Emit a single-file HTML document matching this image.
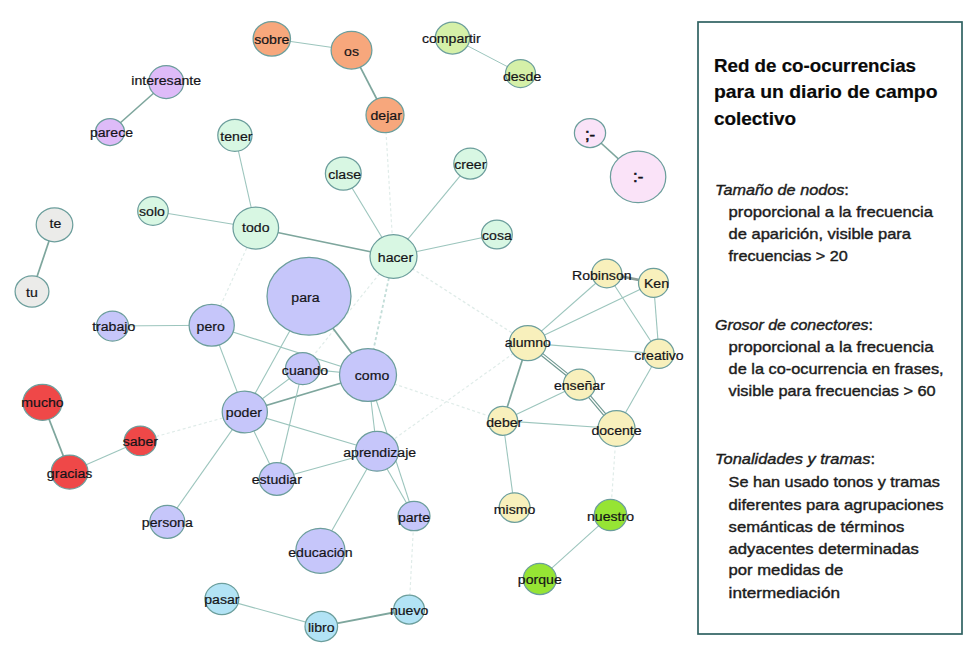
<!DOCTYPE html>
<html><head><meta charset="utf-8"><style>
html,body{margin:0;padding:0;background:#fff;}
body{width:980px;height:656px;overflow:hidden;}
svg{display:block;}
.l{font-family:"Liberation Sans",sans-serif;font-size:13.5px;fill:#141418;stroke:#141418;stroke-width:0.2px;}
.t{font-family:"Liberation Sans",sans-serif;font-size:18.5px;font-weight:bold;fill:#0a0a0a;stroke:#0a0a0a;stroke-width:0.2px;}
.b{font-family:"Liberation Sans",sans-serif;font-size:15px;fill:#1c1c1c;stroke:#1c1c1c;stroke-width:0.4px;}
.i{font-style:italic;}
</style></head><body>
<svg width="980" height="656" viewBox="0 0 980 656">

<line x1="271.8" y1="38.8" x2="351.5" y2="50.2" stroke="#9cc5bd" stroke-width="1.1"/>
<line x1="351.5" y1="50.2" x2="385.0" y2="115.0" stroke="#7ea69d" stroke-width="1.7"/>
<line x1="452.5" y1="38.0" x2="520.5" y2="73.5" stroke="#9cc5bd" stroke-width="1.0"/>
<line x1="166.2" y1="82.0" x2="110.0" y2="132.0" stroke="#7ea69d" stroke-width="1.6"/>
<line x1="590.0" y1="133.0" x2="638.1" y2="176.9" stroke="#7ea69d" stroke-width="1.6"/>
<line x1="54.5" y1="224.8" x2="32.0" y2="291.5" stroke="#7ea69d" stroke-width="1.7"/>
<line x1="234.9" y1="135.3" x2="255.8" y2="228.0" stroke="#9cc5bd" stroke-width="1.1"/>
<line x1="153.0" y1="211.0" x2="255.8" y2="228.0" stroke="#9cc5bd" stroke-width="1.1"/>
<line x1="255.8" y1="228.0" x2="393.5" y2="256.5" stroke="#7ea69d" stroke-width="1.6"/>
<line x1="343.3" y1="173.5" x2="393.5" y2="256.5" stroke="#9cc5bd" stroke-width="1.1"/>
<line x1="470.3" y1="163.6" x2="393.5" y2="256.5" stroke="#9cc5bd" stroke-width="1.1"/>
<line x1="496.9" y1="234.5" x2="393.5" y2="256.5" stroke="#9cc5bd" stroke-width="1.1"/>
<line x1="385.0" y1="115.0" x2="393.5" y2="256.5" stroke="#e0ece9" stroke-width="1.2" stroke-dasharray="3 2.5"/>
<line x1="393.5" y1="256.5" x2="368.0" y2="375.0" stroke="#c2ddd8" stroke-width="1.8" stroke-dasharray="3 2.5"/>
<line x1="393.5" y1="256.5" x2="527.8" y2="343.1" stroke="#e0ece9" stroke-width="1.4" stroke-dasharray="3 2.5"/>
<line x1="255.8" y1="228.0" x2="211.7" y2="325.2" stroke="#e0ece9" stroke-width="1.2" stroke-dasharray="3 2.5"/>
<line x1="393.5" y1="256.5" x2="302.8" y2="368.6" stroke="#e0ece9" stroke-width="1.2" stroke-dasharray="3 2.5"/>
<line x1="211.7" y1="325.2" x2="112.5" y2="326.0" stroke="#9cc5bd" stroke-width="1.1"/>
<line x1="211.7" y1="325.2" x2="244.8" y2="411.9" stroke="#9cc5bd" stroke-width="1.1"/>
<line x1="211.7" y1="325.2" x2="368.0" y2="375.0" stroke="#9cc5bd" stroke-width="1.1"/>
<line x1="309.0" y1="296.2" x2="368.0" y2="375.0" stroke="#7ea69d" stroke-width="1.8"/>
<line x1="309.0" y1="296.2" x2="244.8" y2="411.9" stroke="#9cc5bd" stroke-width="1.1"/>
<line x1="244.8" y1="411.9" x2="302.8" y2="368.6" stroke="#9cc5bd" stroke-width="1.1"/>
<line x1="244.8" y1="411.9" x2="368.0" y2="375.0" stroke="#7ea69d" stroke-width="1.7"/>
<line x1="244.8" y1="411.9" x2="377.0" y2="451.3" stroke="#9cc5bd" stroke-width="1.1"/>
<line x1="244.8" y1="411.9" x2="276.8" y2="479.0" stroke="#9cc5bd" stroke-width="1.1"/>
<line x1="244.8" y1="411.9" x2="167.3" y2="521.8" stroke="#9cc5bd" stroke-width="1.1"/>
<line x1="302.8" y1="368.6" x2="368.0" y2="375.0" stroke="#9cc5bd" stroke-width="1.1"/>
<line x1="302.8" y1="368.6" x2="276.8" y2="479.0" stroke="#9cc5bd" stroke-width="1.1"/>
<line x1="368.0" y1="375.0" x2="377.0" y2="451.3" stroke="#9cc5bd" stroke-width="1.1"/>
<line x1="368.0" y1="375.0" x2="414.0" y2="516.1" stroke="#9cc5bd" stroke-width="1.1"/>
<line x1="377.0" y1="451.3" x2="276.8" y2="479.0" stroke="#9cc5bd" stroke-width="1.1"/>
<line x1="377.0" y1="451.3" x2="320.4" y2="550.8" stroke="#9cc5bd" stroke-width="1.1"/>
<line x1="377.0" y1="451.3" x2="414.0" y2="516.1" stroke="#9cc5bd" stroke-width="1.1"/>
<line x1="414.0" y1="516.1" x2="409.1" y2="609.5" stroke="#e0ece9" stroke-width="1.2" stroke-dasharray="3 2.5"/>
<line x1="321.3" y1="626.4" x2="221.9" y2="598.9" stroke="#9cc5bd" stroke-width="1.1"/>
<line x1="321.3" y1="626.4" x2="409.1" y2="609.5" stroke="#7ea69d" stroke-width="1.8"/>
<line x1="140.3" y1="440.9" x2="69.6" y2="472.1" stroke="#9cc5bd" stroke-width="1.1"/>
<line x1="42.5" y1="402.4" x2="69.6" y2="472.1" stroke="#7ea69d" stroke-width="1.7"/>
<line x1="140.3" y1="440.9" x2="244.8" y2="411.9" stroke="#e0ece9" stroke-width="1.2" stroke-dasharray="3 2.5"/>
<line x1="606.8" y1="273.5" x2="653.5" y2="282.9" stroke="#8d9d98" stroke-width="2.8"/>
<line x1="606.8" y1="273.5" x2="527.8" y2="343.1" stroke="#9cc5bd" stroke-width="1.1"/>
<line x1="653.5" y1="282.9" x2="527.8" y2="343.1" stroke="#9cc5bd" stroke-width="1.1"/>
<line x1="606.8" y1="273.5" x2="659.0" y2="353.8" stroke="#9cc5bd" stroke-width="1.1"/>
<line x1="653.5" y1="282.9" x2="659.0" y2="353.8" stroke="#9cc5bd" stroke-width="1.1"/>
<line x1="527.8" y1="343.1" x2="659.0" y2="353.8" stroke="#9cc5bd" stroke-width="1.1"/>
<line x1="527.8" y1="343.1" x2="579.4" y2="384.6" stroke="#6f9890" stroke-width="3.6"/>
<line x1="527.8" y1="343.1" x2="579.4" y2="384.6" stroke="#ffffff" stroke-width="1.3"/>
<line x1="579.4" y1="384.6" x2="616.5" y2="428.5" stroke="#6f9890" stroke-width="3.6"/>
<line x1="579.4" y1="384.6" x2="616.5" y2="428.5" stroke="#ffffff" stroke-width="1.3"/>
<line x1="527.8" y1="343.1" x2="502.8" y2="420.8" stroke="#7ea69d" stroke-width="1.7"/>
<line x1="502.8" y1="420.8" x2="579.4" y2="384.6" stroke="#9cc5bd" stroke-width="1.1"/>
<line x1="502.8" y1="420.8" x2="616.5" y2="428.5" stroke="#9cc5bd" stroke-width="1.1"/>
<line x1="659.0" y1="353.8" x2="616.5" y2="428.5" stroke="#9cc5bd" stroke-width="1.1"/>
<line x1="502.8" y1="420.8" x2="514.6" y2="507.6" stroke="#9cc5bd" stroke-width="1.1"/>
<line x1="616.5" y1="428.5" x2="610.5" y2="515.1" stroke="#e0ece9" stroke-width="1.2" stroke-dasharray="3 2.5"/>
<line x1="610.5" y1="515.1" x2="539.8" y2="578.9" stroke="#9cc5bd" stroke-width="1.1"/>
<line x1="368.0" y1="375.0" x2="502.8" y2="420.8" stroke="#e0ece9" stroke-width="1.2" stroke-dasharray="3 2.5"/>
<line x1="377.0" y1="451.3" x2="527.8" y2="343.1" stroke="#e0ece9" stroke-width="1.2" stroke-dasharray="3 2.5"/>
<ellipse cx="271.8" cy="38.8" rx="18.7" ry="17.3" fill="#F7A77C" stroke="#6c9e9c" stroke-width="1.25"/>
<ellipse cx="351.5" cy="50.2" rx="20.4" ry="18.8" fill="#F7A77C" stroke="#6c9e9c" stroke-width="1.25"/>
<ellipse cx="385.0" cy="115.0" rx="19.0" ry="17.6" fill="#F7A77C" stroke="#6c9e9c" stroke-width="1.25"/>
<ellipse cx="452.5" cy="38.0" rx="17.2" ry="16.0" fill="#D5F0A8" stroke="#6c9e9c" stroke-width="1.25"/>
<ellipse cx="520.5" cy="73.5" rx="15.0" ry="14.0" fill="#D5F0A8" stroke="#6c9e9c" stroke-width="1.25"/>
<ellipse cx="166.2" cy="82.0" rx="17.5" ry="16.5" fill="#DEBBF8" stroke="#6c9e9c" stroke-width="1.25"/>
<ellipse cx="110.0" cy="132.0" rx="14.5" ry="13.5" fill="#DEBBF8" stroke="#6c9e9c" stroke-width="1.25"/>
<ellipse cx="590.0" cy="133.0" rx="15.6" ry="14.5" fill="#FAE3F8" stroke="#6c9e9c" stroke-width="1.25"/>
<ellipse cx="638.1" cy="176.9" rx="27.7" ry="25.8" fill="#FAE3F8" stroke="#6c9e9c" stroke-width="1.25"/>
<ellipse cx="234.9" cy="135.3" rx="17.1" ry="16.0" fill="#D8F7E3" stroke="#6c9e9c" stroke-width="1.25"/>
<ellipse cx="343.3" cy="173.5" rx="17.9" ry="16.5" fill="#D8F7E3" stroke="#6c9e9c" stroke-width="1.25"/>
<ellipse cx="470.3" cy="163.6" rx="16.5" ry="15.5" fill="#D8F7E3" stroke="#6c9e9c" stroke-width="1.25"/>
<ellipse cx="153.0" cy="211.0" rx="15.3" ry="14.3" fill="#D8F7E3" stroke="#6c9e9c" stroke-width="1.25"/>
<ellipse cx="255.8" cy="228.0" rx="22.8" ry="21.0" fill="#D8F7E3" stroke="#6c9e9c" stroke-width="1.25"/>
<ellipse cx="393.5" cy="256.5" rx="23.5" ry="21.8" fill="#D8F7E3" stroke="#6c9e9c" stroke-width="1.25"/>
<ellipse cx="496.9" cy="234.5" rx="15.4" ry="14.4" fill="#D8F7E3" stroke="#6c9e9c" stroke-width="1.25"/>
<ellipse cx="54.5" cy="224.8" rx="18.3" ry="17.0" fill="#EBEBE9" stroke="#6c9e9c" stroke-width="1.25"/>
<ellipse cx="32.0" cy="291.5" rx="16.9" ry="15.6" fill="#EBEBE9" stroke="#6c9e9c" stroke-width="1.25"/>
<ellipse cx="309.0" cy="296.2" rx="42.0" ry="38.9" fill="#C6C6FA" stroke="#6c9e9c" stroke-width="1.25"/>
<ellipse cx="112.5" cy="326.0" rx="16.0" ry="15.0" fill="#C6C6FA" stroke="#6c9e9c" stroke-width="1.25"/>
<ellipse cx="211.7" cy="325.2" rx="22.6" ry="20.9" fill="#C6C6FA" stroke="#6c9e9c" stroke-width="1.25"/>
<ellipse cx="302.8" cy="368.6" rx="17.3" ry="16.0" fill="#C6C6FA" stroke="#6c9e9c" stroke-width="1.25"/>
<ellipse cx="368.0" cy="375.0" rx="28.5" ry="26.4" fill="#C6C6FA" stroke="#6c9e9c" stroke-width="1.25"/>
<ellipse cx="244.8" cy="411.9" rx="22.6" ry="20.9" fill="#C6C6FA" stroke="#6c9e9c" stroke-width="1.25"/>
<ellipse cx="377.0" cy="451.3" rx="21.5" ry="19.9" fill="#C6C6FA" stroke="#6c9e9c" stroke-width="1.25"/>
<ellipse cx="276.8" cy="479.0" rx="17.6" ry="16.3" fill="#C6C6FA" stroke="#6c9e9c" stroke-width="1.25"/>
<ellipse cx="167.3" cy="521.8" rx="17.5" ry="16.5" fill="#C6C6FA" stroke="#6c9e9c" stroke-width="1.25"/>
<ellipse cx="320.4" cy="550.8" rx="24.6" ry="22.5" fill="#C6C6FA" stroke="#6c9e9c" stroke-width="1.25"/>
<ellipse cx="414.0" cy="516.1" rx="16.0" ry="14.6" fill="#C6C6FA" stroke="#6c9e9c" stroke-width="1.25"/>
<ellipse cx="42.5" cy="402.4" rx="19.5" ry="18.0" fill="#EF4848" stroke="#6c9e9c" stroke-width="1.25"/>
<ellipse cx="140.3" cy="440.9" rx="16.0" ry="14.8" fill="#EF4848" stroke="#6c9e9c" stroke-width="1.25"/>
<ellipse cx="69.6" cy="472.1" rx="18.4" ry="17.0" fill="#EF4848" stroke="#6c9e9c" stroke-width="1.25"/>
<ellipse cx="606.8" cy="273.5" rx="15.0" ry="14.3" fill="#F8F0BC" stroke="#6c9e9c" stroke-width="1.25"/>
<ellipse cx="653.5" cy="282.9" rx="15.0" ry="14.5" fill="#F8F0BC" stroke="#6c9e9c" stroke-width="1.25"/>
<ellipse cx="527.8" cy="343.1" rx="18.6" ry="17.6" fill="#F8F0BC" stroke="#6c9e9c" stroke-width="1.25"/>
<ellipse cx="659.0" cy="353.8" rx="15.0" ry="14.6" fill="#F8F0BC" stroke="#6c9e9c" stroke-width="1.25"/>
<ellipse cx="579.4" cy="384.6" rx="16.1" ry="15.5" fill="#F8F0BC" stroke="#6c9e9c" stroke-width="1.25"/>
<ellipse cx="502.8" cy="420.8" rx="14.8" ry="14.5" fill="#F8F0BC" stroke="#6c9e9c" stroke-width="1.25"/>
<ellipse cx="616.5" cy="428.5" rx="18.5" ry="17.8" fill="#F8F0BC" stroke="#6c9e9c" stroke-width="1.25"/>
<ellipse cx="514.6" cy="507.6" rx="15.4" ry="14.8" fill="#F8F0BC" stroke="#6c9e9c" stroke-width="1.25"/>
<ellipse cx="610.5" cy="515.1" rx="16.3" ry="15.6" fill="#96E434" stroke="#6c9e9c" stroke-width="1.25"/>
<ellipse cx="539.8" cy="578.9" rx="16.5" ry="15.6" fill="#96E434" stroke="#6c9e9c" stroke-width="1.25"/>
<ellipse cx="221.9" cy="598.9" rx="16.9" ry="15.6" fill="#B2E3F5" stroke="#6c9e9c" stroke-width="1.25"/>
<ellipse cx="321.3" cy="626.4" rx="16.3" ry="15.1" fill="#B2E3F5" stroke="#6c9e9c" stroke-width="1.25"/>
<ellipse cx="409.1" cy="609.5" rx="15.4" ry="14.5" fill="#B2E3F5" stroke="#6c9e9c" stroke-width="1.25"/>
<text class="l" x="271.8" y="44.3" text-anchor="middle" transform="translate(271.8,0) scale(1.045,1) translate(-271.8,0)">sobre</text>
<text class="l" x="351.5" y="55.7" text-anchor="middle" transform="translate(351.5,0) scale(1.045,1) translate(-351.5,0)">os</text>
<text class="l" x="386.2" y="120.5" text-anchor="middle" transform="translate(386.2,0) scale(1.045,1) translate(-386.2,0)">dejar</text>
<text class="l" x="451.3" y="43.5" text-anchor="middle" transform="translate(451.3,0) scale(1.045,1) translate(-451.3,0)">compartir</text>
<text class="l" x="522.1" y="81.3" text-anchor="middle" transform="translate(522.1,0) scale(1.045,1) translate(-522.1,0)">desde</text>
<text class="l" x="166.2" y="85.0" text-anchor="middle" transform="translate(166.2,0) scale(1.045,1) translate(-166.2,0)">interesante</text>
<text class="l" x="111.5" y="137.5" text-anchor="middle" transform="translate(111.5,0) scale(1.045,1) translate(-111.5,0)">parece</text>
<text class="l" style="font-size:16px;stroke-width:0.6px" x="590.0" y="139.8" text-anchor="middle" transform="translate(590.0,0) scale(1.045,1) translate(-590.0,0)">;-</text>
<text class="l" style="font-size:16px;stroke-width:0.6px" x="638.1" y="182.4" text-anchor="middle" transform="translate(638.1,0) scale(1.045,1) translate(-638.1,0)">:-</text>
<text class="l" x="236.4" y="140.8" text-anchor="middle" transform="translate(236.4,0) scale(1.045,1) translate(-236.4,0)">tener</text>
<text class="l" x="344.6" y="179.0" text-anchor="middle" transform="translate(344.6,0) scale(1.045,1) translate(-344.6,0)">clase</text>
<text class="l" x="470.3" y="169.1" text-anchor="middle" transform="translate(470.3,0) scale(1.045,1) translate(-470.3,0)">creer</text>
<text class="l" x="152.0" y="216.5" text-anchor="middle" transform="translate(152.0,0) scale(1.045,1) translate(-152.0,0)">solo</text>
<text class="l" x="255.8" y="231.8" text-anchor="middle" transform="translate(255.8,0) scale(1.045,1) translate(-255.8,0)">todo</text>
<text class="l" x="395.5" y="262.0" text-anchor="middle" transform="translate(395.5,0) scale(1.045,1) translate(-395.5,0)">hacer</text>
<text class="l" x="496.9" y="240.0" text-anchor="middle" transform="translate(496.9,0) scale(1.045,1) translate(-496.9,0)">cosa</text>
<text class="l" x="55.5" y="228.1" text-anchor="middle" transform="translate(55.5,0) scale(1.045,1) translate(-55.5,0)">te</text>
<text class="l" x="32.0" y="297.0" text-anchor="middle" transform="translate(32.0,0) scale(1.045,1) translate(-32.0,0)">tu</text>
<text class="l" x="305.5" y="301.7" text-anchor="middle" transform="translate(305.5,0) scale(1.045,1) translate(-305.5,0)">para</text>
<text class="l" x="113.7" y="331.5" text-anchor="middle" transform="translate(113.7,0) scale(1.045,1) translate(-113.7,0)">trabajo</text>
<text class="l" x="210.7" y="330.7" text-anchor="middle" transform="translate(210.7,0) scale(1.045,1) translate(-210.7,0)">pero</text>
<text class="l" x="305.0" y="374.6" text-anchor="middle" transform="translate(305.0,0) scale(1.045,1) translate(-305.0,0)">cuando</text>
<text class="l" x="372.0" y="380.5" text-anchor="middle" transform="translate(372.0,0) scale(1.045,1) translate(-372.0,0)">como</text>
<text class="l" x="243.9" y="417.5" text-anchor="middle" transform="translate(243.9,0) scale(1.045,1) translate(-243.9,0)">poder</text>
<text class="l" x="379.7" y="456.9" text-anchor="middle" transform="translate(379.7,0) scale(1.045,1) translate(-379.7,0)">aprendizaje</text>
<text class="l" x="276.8" y="484.5" text-anchor="middle" transform="translate(276.8,0) scale(1.045,1) translate(-276.8,0)">estudiar</text>
<text class="l" x="167.3" y="527.3" text-anchor="middle" transform="translate(167.3,0) scale(1.045,1) translate(-167.3,0)">persona</text>
<text class="l" x="320.4" y="557.1" text-anchor="middle" transform="translate(320.4,0) scale(1.045,1) translate(-320.4,0)">educación</text>
<text class="l" x="414.0" y="521.6" text-anchor="middle" transform="translate(414.0,0) scale(1.045,1) translate(-414.0,0)">parte</text>
<text class="l" x="42.5" y="407.1" text-anchor="middle" transform="translate(42.5,0) scale(1.045,1) translate(-42.5,0)">mucho</text>
<text class="l" x="140.3" y="446.4" text-anchor="middle" transform="translate(140.3,0) scale(1.045,1) translate(-140.3,0)">saber</text>
<text class="l" x="69.6" y="478.4" text-anchor="middle" transform="translate(69.6,0) scale(1.045,1) translate(-69.6,0)">gracias</text>
<text class="l" x="601.8" y="280.0" text-anchor="middle" transform="translate(601.8,0) scale(1.045,1) translate(-601.8,0)">Robinson</text>
<text class="l" x="656.5" y="287.9" text-anchor="middle" transform="translate(656.5,0) scale(1.045,1) translate(-656.5,0)">Ken</text>
<text class="l" x="527.8" y="347.2" text-anchor="middle" transform="translate(527.8,0) scale(1.045,1) translate(-527.8,0)">alumno</text>
<text class="l" x="659.0" y="359.6" text-anchor="middle" transform="translate(659.0,0) scale(1.045,1) translate(-659.0,0)">creativo</text>
<text class="l" x="579.4" y="390.1" text-anchor="middle" transform="translate(579.4,0) scale(1.045,1) translate(-579.4,0)">enseñar</text>
<text class="l" x="504.3" y="426.6" text-anchor="middle" transform="translate(504.3,0) scale(1.045,1) translate(-504.3,0)">deber</text>
<text class="l" x="616.5" y="435.3" text-anchor="middle" transform="translate(616.5,0) scale(1.045,1) translate(-616.5,0)">docente</text>
<text class="l" x="514.6" y="513.9" text-anchor="middle" transform="translate(514.6,0) scale(1.045,1) translate(-514.6,0)">mismo</text>
<text class="l" x="610.5" y="520.6" text-anchor="middle" transform="translate(610.5,0) scale(1.045,1) translate(-610.5,0)">nuestro</text>
<text class="l" x="539.8" y="584.4" text-anchor="middle" transform="translate(539.8,0) scale(1.045,1) translate(-539.8,0)">porque</text>
<text class="l" x="221.9" y="604.4" text-anchor="middle" transform="translate(221.9,0) scale(1.045,1) translate(-221.9,0)">pasar</text>
<text class="l" x="321.3" y="631.9" text-anchor="middle" transform="translate(321.3,0) scale(1.045,1) translate(-321.3,0)">libro</text>
<text class="l" x="409.1" y="615.0" text-anchor="middle" transform="translate(409.1,0) scale(1.045,1) translate(-409.1,0)">nuevo</text>
<rect x="698" y="22" width="264" height="612" fill="none" stroke="#306262" stroke-width="1.7"/>
<text class="t" x="714" y="71.5" textLength="202" lengthAdjust="spacingAndGlyphs">Red de co-ocurrencias</text>
<text class="t" x="714" y="98.4" textLength="223.5" lengthAdjust="spacingAndGlyphs">para un diario de campo</text>
<text class="t" x="714" y="124.9" textLength="82" lengthAdjust="spacingAndGlyphs">colectivo</text>
<text class="b" x="715" y="195.0" textLength="133.9" lengthAdjust="spacingAndGlyphs"><tspan class="i">Tamaño de nodos</tspan>:</text>
<text class="b" x="728.6" y="216.5" textLength="204.4" lengthAdjust="spacingAndGlyphs">proporcional a la frecuencia</text>
<text class="b" x="728.6" y="238.6" textLength="182.4" lengthAdjust="spacingAndGlyphs">de aparición, visible para</text>
<text class="b" x="728.6" y="261.4" textLength="119.2" lengthAdjust="spacingAndGlyphs">frecuencias &gt; 20</text>
<text class="b" x="715" y="329.7" textLength="158.0" lengthAdjust="spacingAndGlyphs"><tspan class="i">Grosor de conectores</tspan>:</text>
<text class="b" x="728.6" y="351.7" textLength="204.9" lengthAdjust="spacingAndGlyphs">proporcional a la frecuencia</text>
<text class="b" x="728.6" y="373.8" textLength="215.0" lengthAdjust="spacingAndGlyphs">de la co-ocurrencia en frases,</text>
<text class="b" x="728.6" y="396.0" textLength="207.0" lengthAdjust="spacingAndGlyphs">visible para frecuencias &gt; 60</text>
<text class="b" x="715" y="464.4" textLength="160.0" lengthAdjust="spacingAndGlyphs"><tspan class="i">Tonalidades y tramas</tspan>:</text>
<text class="b" x="728.6" y="486.7" textLength="211.4" lengthAdjust="spacingAndGlyphs">Se han usado tonos y tramas</text>
<text class="b" x="728.6" y="509.5" textLength="215.0" lengthAdjust="spacingAndGlyphs">diferentes para agrupaciones</text>
<text class="b" x="728.6" y="531.5" textLength="175.7" lengthAdjust="spacingAndGlyphs">semánticas de términos</text>
<text class="b" x="728.6" y="553.6" textLength="190.3" lengthAdjust="spacingAndGlyphs">adyacentes determinadas</text>
<text class="b" x="728.6" y="575.3" textLength="114.7" lengthAdjust="spacingAndGlyphs">por medidas de</text>
<text class="b" x="728.6" y="597.9" textLength="111.4" lengthAdjust="spacingAndGlyphs">intermediación</text>
</svg></body></html>
